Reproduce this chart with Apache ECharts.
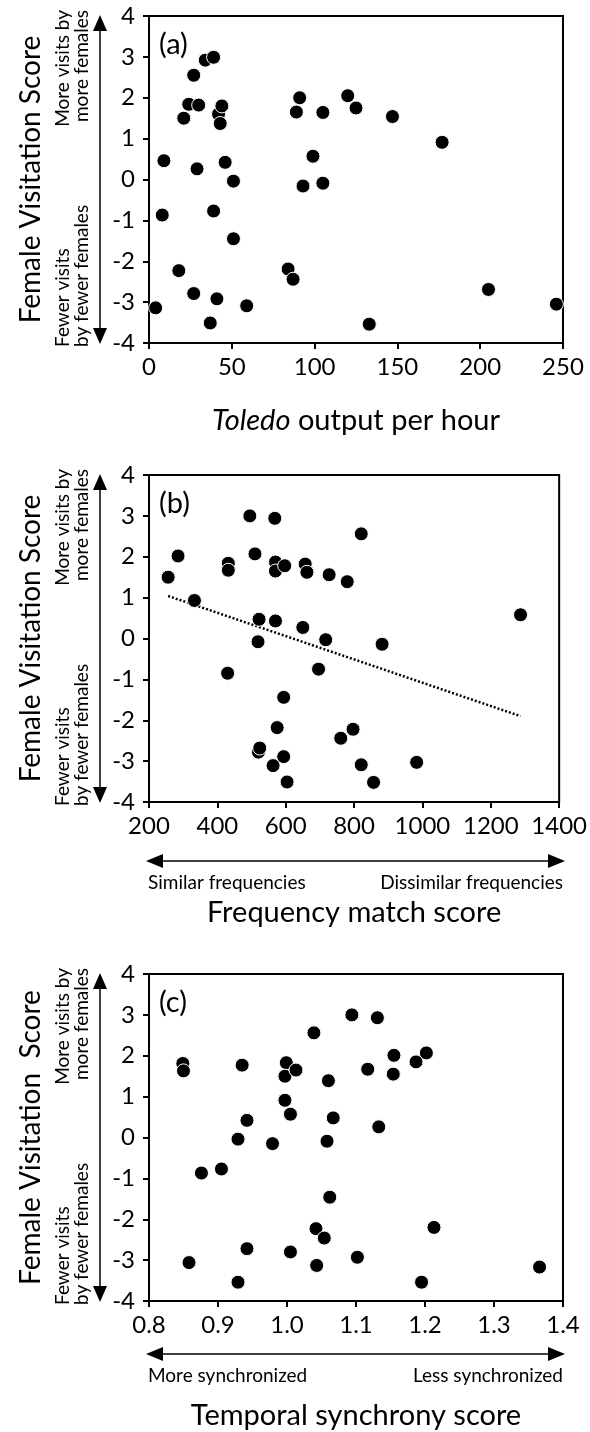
<!DOCTYPE html>
<html>
<head>
<meta charset="utf-8">
<script src="https://cdn.jsdelivr.net/npm/echarts@6/dist/echarts.min.js"></script>
<style>
  html, body { margin: 0; padding: 0; background: #fff; }
  #chart { width: 590px; height: 1432px; }
</style>
</head>
<body>
<div id="chart"></div>
<script>
  // panel (a): Toledo output per hour vs female visitation score
  const outputA = [4, 9, 8, 18, 21, 24, 27, 27, 30, 29, 34, 39, 37, 39, 41, 42, 44, 43, 46, 51, 51, 59,
    84, 87, 91, 89, 93, 99, 105, 105, 120, 125, 147, 177, 133, 205, 246];
  const scoreA = [-3.14, 0.46, -0.87, -2.23, 1.5, 1.84, 2.55, -2.79, 1.82, 0.26, 2.92, 2.99, -3.51, -0.77, -2.92, 1.6, 1.8, 1.37, 0.42, -0.04, -1.45, -3.09,
    -2.19, -2.44, 2.0, 1.65, -0.16, 0.57, 1.64, -0.09, 2.05, 1.75, 1.54, 0.91, -3.54, -2.69, -3.05];

  // panel (b): frequency match score
  const matchB = [256, 285, 333, 430, 432, 432, 495, 510, 522, 519, 520, 524, 563, 568, 570, 570, 570, 575, 597, 594, 594, 604,
    657, 662, 650, 727, 780, 821, 717, 696, 882, 1287, 797, 761, 821, 983, 857];
  const scoreB = [1.5, 2.02, 0.93, -0.85, 1.84, 1.67, 3.0, 2.07, 0.47, -0.08, -2.78, -2.68, -3.11, 2.94, 1.87, 1.65, 0.43, -2.18, 1.78, -1.44, -2.89, -3.51,
    1.82, 1.62, 0.27, 1.56, 1.39, 2.56, -0.03, -0.75, -0.14, 0.58, -2.22, -2.44, -3.09, -3.03, -3.52];
  // regression line end points
  const trendX = [256, 1287];
  const trendY = [1.04, -1.9];

  // panel (c): temporal synchrony score
  const syncC = [0.849, 0.850, 0.858, 0.876, 0.905, 0.935, 0.942, 0.929, 0.942, 0.929, 0.979, 0.999, 0.997, 0.997, 1.005, 1.005, 1.013,
    1.039, 1.094, 1.131, 1.155, 1.202, 1.187, 1.117, 1.154, 1.060, 1.067, 1.133, 1.058, 1.062, 1.042, 1.054, 1.213, 1.102, 1.043, 1.195, 1.366];
  const scoreC = [1.81, 1.63, -3.06, -0.87, -0.77, 1.77, 0.42, -0.04, -2.72, -3.54, -0.15, 1.83, 1.5, 0.91, 0.57, -2.8, 1.65,
    2.56, 3.0, 2.93, 2.01, 2.07, 1.85, 1.67, 1.55, 1.39, 0.48, 0.26, -0.09, -1.46, -2.23, -2.46, -2.2, -2.93, -3.13, -3.54, -3.17];

  const FONT = 'Lato';
  const panelTops = [16, 475, 974];
  const panelH = 327;

  const zip = (xs, ys) => xs.map((x, i) => [x, ys[i]]);

  const chart = echarts.init(document.getElementById('chart'));

  const yAxisBase = (gridIndex, name) => ({
    gridIndex,
    type: 'value',
    min: -4,
    max: 4,
    interval: 1,
    name,
    nameLocation: 'middle',
    nameGap: 104,
    nameRotate: 90,
    nameTextStyle: { fontFamily: FONT, fontSize: 28, color: '#000' },
    axisLine: { show: true, onZero: false, lineStyle: { color: '#000', width: 2 } },
    axisTick: { show: true, length: 6, lineStyle: { color: '#000', width: 2 } },
    axisLabel: { fontFamily: FONT, fontSize: 24, color: '#000', margin: 14 },
    splitLine: { show: false },
  });

  const xAxisBase = (gridIndex, min, max, interval) => ({
    gridIndex,
    type: 'value',
    min,
    max,
    interval,
    nameLocation: 'middle',
    nameTextStyle: { fontFamily: FONT, fontSize: 29, color: '#000' },
    axisLine: { show: true, onZero: false, lineStyle: { color: '#000', width: 2 } },
    axisTick: { show: true, length: 6, lineStyle: { color: '#000', width: 2 } },
    axisLabel: { fontFamily: FONT, fontSize: 24, color: '#000', margin: 12, formatter: (v) => String(v) },
    splitLine: { show: false },
  });

  const dots = (idx, xs, ys) => ({
    type: 'scatter',
    xAxisIndex: idx,
    yAxisIndex: idx,
    data: zip(xs, ys),
    symbolSize: 14,
    itemStyle: { color: '#000', borderColor: '#fff', borderWidth: 1, opacity: 1 },
    z: 3,
  });

  // double headed arrows and side notes (annotation only)
  const txt = (x, y, text, size, align, rotation) => ({
    type: 'text', x, y, rotation: rotation || 0,
    style: { text, fontFamily: FONT, fontSize: size, fill: '#000', align, verticalAlign: 'middle', lineHeight: size },
  });
  const vArrow = (T) => [
    { type: 'line', shape: { x1: 100, y1: T + 8, x2: 100, y2: T + 320 }, style: { stroke: '#000', lineWidth: 1.5 } },
    { type: 'polygon', shape: { points: [[100, T - 1], [93, T + 15], [107, T + 15]] }, style: { fill: '#000' } },
    { type: 'polygon', shape: { points: [[100, T + 328], [93, T + 312], [107, T + 312]] }, style: { fill: '#000' } },
    txt(72, T - 6, 'More visits by\nmore females', 19, 'right', Math.PI / 2),
    txt(72, T + 331, 'Fewer visits\nby fewer females', 19, 'left', Math.PI / 2),
  ];
  const hArrow = (y) => [
    { type: 'line', shape: { x1: 155, y1: y, x2: 556, y2: y }, style: { stroke: '#000', lineWidth: 1.5 } },
    { type: 'polygon', shape: { points: [[146, y], [163, y - 7], [163, y + 7]] }, style: { fill: '#000' } },
    { type: 'polygon', shape: { points: [[565, y], [548, y - 7], [548, y + 7]] }, style: { fill: '#000' } },
  ];

  const graphics = [];
  panelTops.forEach((T) => graphics.push(...vArrow(T)));
  graphics.push(...hArrow(861));
  graphics.push(txt(148, 883, 'Similar frequencies', 19, 'left'));
  graphics.push(txt(563, 883, 'Dissimilar frequencies', 19, 'right'));
  graphics.push(...hArrow(1354));
  graphics.push(txt(148, 1376, 'More synchronized', 19, 'left'));
  graphics.push(txt(563, 1376, 'Less synchronized', 19, 'right'));
  ['(a)', '(b)', '(c)'].forEach((label, i) => {
    graphics.push(txt(159, panelTops[i] + 29, label, 29, 'left'));
  });

  const option = {
    animation: false,
    backgroundColor: '#fff',
    grid: panelTops.map((T) => ({
      left: 149,
      right: 27,
      top: T,
      height: panelH,
      show: true,
      borderColor: '#000',
      borderWidth: 2,
      backgroundColor: 'transparent',
    })),
    xAxis: [
      Object.assign(xAxisBase(0, 0, 250, 50), {
        name: '{i|Toledo} output per hour',
        nameGap: 63,
        nameTextStyle: {
          fontFamily: FONT, fontSize: 29, color: '#000',
          rich: { i: { fontFamily: FONT, fontSize: 29, fontStyle: 'italic', color: '#000' } },
        },
      }),
      Object.assign(xAxisBase(1, 200, 1400, 200), { name: 'Frequency match score', nameGap: 96 }),
      Object.assign(xAxisBase(2, 0.8, 1.4, 0.1), {
        name: 'Temporal synchrony score',
        nameGap: 100,
        axisLabel: { fontFamily: FONT, fontSize: 24, color: '#000', margin: 12, formatter: (v) => v.toFixed(1) },
      }),
    ],
    yAxis: [
      yAxisBase(0, 'Female Visitation Score'),
      yAxisBase(1, 'Female Visitation Score'),
      yAxisBase(2, 'Female Visitation  Score'),
    ],
    series: [
      dots(0, outputA, scoreA),
      dots(1, matchB, scoreB),
      {
        type: 'line',
        xAxisIndex: 1,
        yAxisIndex: 1,
        data: zip(trendX, trendY),
        symbol: 'none',
        lineStyle: { color: '#000', width: 2.5, type: [2, 2] },
        z: 2,
      },
      dots(2, syncC, scoreC),
    ],
    graphic: graphics,
  };

  chart.setOption(option);
</script>
</body>
</html>
